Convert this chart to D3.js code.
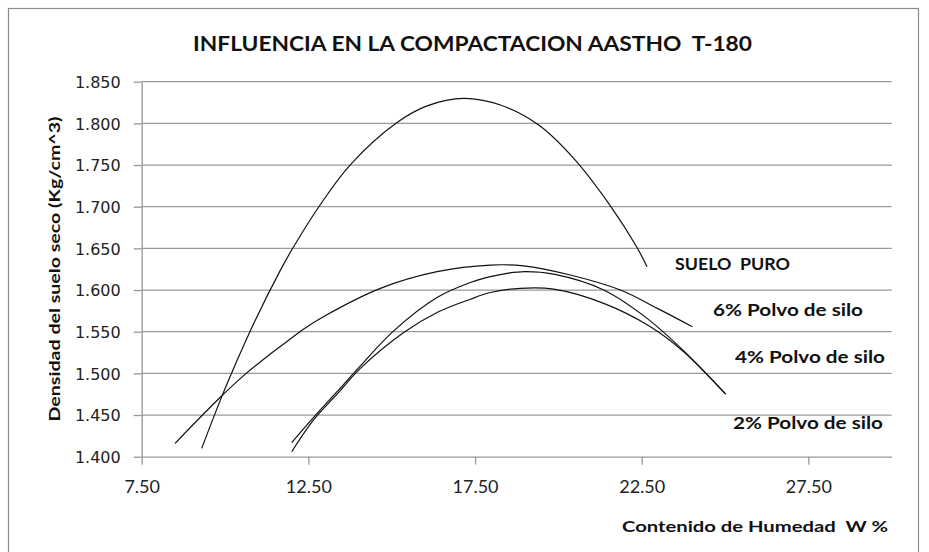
<!DOCTYPE html>
<html>
<head>
<meta charset="utf-8">
<script src="https://cdn.jsdelivr.net/npm/d3@7"></script>
<style>
  html, body { margin: 0; padding: 0; background: #fff; }
  svg { display: block; }
  text { white-space: pre; }
</style>
</head>
<body>
<svg id="chart" width="929" height="552"></svg>
<script>
// ---------- data ----------
const xTicks = [7.5, 12.5, 17.5, 22.5, 27.5];
const yTicks = [1.40, 1.45, 1.50, 1.55, 1.60, 1.65, 1.70, 1.75, 1.80, 1.85];

const sueloX = [9.30, 9.85, 10.15, 10.90, 11.65, 12.00, 12.85, 13.75, 15.16, 16.06, 17.16, 18.26, 19.41, 20.46, 21.56, 22.36, 22.66];
const sueloY = [1.410, 1.467, 1.496, 1.563, 1.623, 1.648, 1.702, 1.750, 1.801, 1.821, 1.830, 1.822, 1.798, 1.758, 1.701, 1.651, 1.628];

const p6X = [8.50, 9.85, 10.55, 11.35, 11.85, 12.35, 12.95, 14.66, 16.36, 17.96, 18.96, 20.36, 21.86, 22.97, 24.02];
const p6Y = [1.416, 1.471, 1.497, 1.523, 1.538, 1.553, 1.568, 1.602, 1.622, 1.630, 1.629, 1.618, 1.600, 1.578, 1.556];

const p4X = [12.00, 12.65, 13.36, 14.06, 15.06, 16.36, 17.36, 17.96, 18.46, 19.00, 19.86, 21.36, 22.66, 23.76, 25.02];
const p4Y = [1.417, 1.447, 1.478, 1.509, 1.551, 1.591, 1.609, 1.616, 1.620, 1.622, 1.619, 1.600, 1.566, 1.527, 1.475];

const p2X = [12.00, 12.65, 13.36, 14.06, 15.36, 16.36, 17.36, 17.96, 18.86, 19.86, 21.36, 22.76, 23.76, 25.02];
const p2Y = [1.406, 1.444, 1.475, 1.506, 1.549, 1.573, 1.589, 1.597, 1.602, 1.601, 1.584, 1.556, 1.526, 1.475];

const seriesNames = ["SUELO  PURO", "6% Polvo de silo", "4% Polvo de silo", "2% Polvo de silo"];
const titleText = "INFLUENCIA EN LA COMPACTACION AASTHO  T-180";
const yTitle = "Densidad del suelo seco (Kg/cm^3)";
const xTitle = "Contenido de Humedad  W %";

// ---------- drawing ----------
const svg = d3.select("#chart");
const plotL = 141.7, plotR = 891.7, plotT = 81.7, plotB = 456.7;

const x = d3.scaleLinear().domain([7.5, 30]).range([plotL, plotR]);
const y = d3.scaleLinear().domain([1.40, 1.85]).range([plotB, plotT]);

// outer chart border
svg.append("rect")
  .attr("x", 8.5).attr("y", 8.5).attr("width", 910).attr("height", 560)
  .attr("fill", "none").attr("stroke", "#8c8c8c").attr("stroke-width", 1.2);

// gridlines
svg.append("g").selectAll("line").data(yTicks.slice(1)).join("line")
  .attr("x1", plotL).attr("x2", plotR)
  .attr("y1", d => y(d)).attr("y2", d => y(d))
  .attr("stroke", "#999").attr("stroke-width", 1.3);

// y axis
const yAxis = svg.append("g").attr("transform", `translate(${plotL},0)`)
  .call(d3.axisLeft(y).tickValues(yTicks).tickFormat(d3.format(".3f"))
        .tickSize(8).tickSizeOuter(0).tickPadding(13));
yAxis.select(".domain").attr("stroke", "#999").attr("stroke-width", 1.3);
yAxis.selectAll(".tick line").attr("stroke", "#999").attr("stroke-width", 1.3);
yAxis.selectAll(".tick text")
  .attr("font-family", "DejaVu Sans, Verdana, sans-serif")
  .attr("font-size", 16).attr("fill", "#222").attr("dy", "0.36em");

// x axis
const xAxis = svg.append("g").attr("transform", `translate(0,${plotB})`)
  .call(d3.axisBottom(x).tickValues(xTicks).tickFormat(d3.format(".2f"))
        .tickSize(8).tickSizeOuter(0).tickPadding(16));
xAxis.select(".domain").attr("stroke", "#999").attr("stroke-width", 1.3);
xAxis.selectAll(".tick line").attr("stroke", "#999").attr("stroke-width", 1.3);
xAxis.selectAll(".tick text")
  .attr("font-family", "Lato, Carlito, sans-serif")
  .attr("font-size", 18).attr("fill", "#222");

// curves
const line = d3.line().x(d => x(d[0])).y(d => y(d[1])).curve(d3.curveCatmullRom.alpha(0.5));
const allSeries = [
  d3.zip(sueloX, sueloY),
  d3.zip(p6X, p6Y),
  d3.zip(p4X, p4Y),
  d3.zip(p2X, p2Y)
];
svg.append("g").selectAll("path").data(allSeries).join("path")
  .attr("d", line).attr("fill", "none")
  .attr("stroke", "#111").attr("stroke-width", 1.2);

// series labels
const labelPos = [[675, 270, 115], [713, 316, 150], [735, 363, 150], [733, 429, 150]];
svg.append("g").selectAll("text").data(seriesNames).join("text")
  .attr("x", (d, i) => labelPos[i][0]).attr("y", (d, i) => labelPos[i][1])
  .attr("textLength", (d, i) => labelPos[i][2]).attr("lengthAdjust", "spacingAndGlyphs")
  .attr("font-family", "Lato, Carlito, sans-serif").attr("font-weight", "bold")
  .attr("font-size", 17).attr("fill", "#111").text(d => d);

// title
svg.append("text").attr("x", 193).attr("y", 51)
  .attr("textLength", 559).attr("lengthAdjust", "spacingAndGlyphs")
  .attr("font-family", "Lato, Carlito, sans-serif").attr("font-weight", "bold")
  .attr("font-size", 21).attr("fill", "#111").text(titleText);

// y title
svg.append("text").attr("transform", "translate(60,269) rotate(-90)")
  .attr("text-anchor", "middle")
  .attr("textLength", 305).attr("lengthAdjust", "spacingAndGlyphs")
  .attr("font-family", "Lato, Carlito, sans-serif").attr("font-weight", "bold")
  .attr("font-size", 16).attr("fill", "#111").text(yTitle);

// x title
svg.append("text").attr("x", 622).attr("y", 532)
  .attr("textLength", 266).attr("lengthAdjust", "spacingAndGlyphs")
  .attr("font-family", "Lato, Carlito, sans-serif").attr("font-weight", "bold")
  .attr("font-size", 16).attr("fill", "#111").text(xTitle);
</script>
</body>
</html>
